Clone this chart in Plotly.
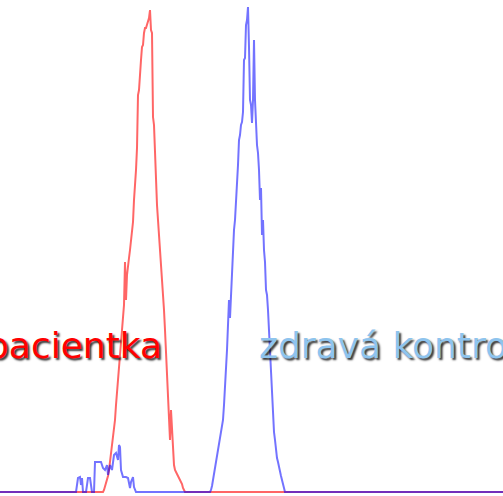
import plotly.graph_objects as go

# Red histogram (pacientka): channel, count
red_x = [0, 103, 104, 105, 106, 107, 108, 109, 110, 111, 112, 113, 114, 115, 116, 117, 118, 119, 120,
         121, 122, 123, 124, 125, 126, 127, 128, 129, 130, 131, 132, 133, 134, 135, 136, 137, 138,
         139, 140, 141, 142, 143, 144, 145, 146, 147, 148, 149, 150, 151, 152, 153, 154, 155, 156,
         157, 158, 159, 160, 161, 162, 163, 164, 165, 166, 167, 168, 169, 170, 171, 172, 173, 174,
         175, 176, 177, 178, 179, 180, 181, 182, 183, 184, 185, 503]
red_px = [492, 492, 490, 487, 484, 480, 476, 470, 462, 455, 447, 438, 428, 420, 405, 392, 378, 365, 352,
          340, 330, 320, 305, 262, 300, 275, 262, 258, 250, 240, 228, 222, 200, 188, 170, 148, 95,
          90, 68, 60, 47, 45, 33, 28, 28, 25, 22, 18, 10, 30, 33, 117, 125, 160, 180,
          205, 220, 235, 243, 260, 277, 295, 310, 330, 350, 375, 397, 410, 440, 410, 432, 455, 465,
          470, 473, 474, 476, 478, 480, 482, 484, 488, 490, 492, 492]
red_y = [492 - v for v in red_px]

# Blue histogram (zdravá kontrola)
blue_x = [0, 76, 78, 80, 81, 82, 83, 86, 88, 90, 92, 94, 95, 98, 101, 103, 105, 107, 108, 110, 112,
          114, 116, 118, 119, 120, 121, 123, 126, 128, 130, 131, 133, 134, 136,
          210, 211, 212, 213, 214, 215, 216, 217, 218, 219, 220, 221, 222, 223, 224, 225, 226, 227,
          228, 229, 230, 231, 232, 233, 234, 235, 236, 237, 238, 239, 240, 241, 242, 243, 244, 245,
          246, 247, 248, 249, 250, 251, 252, 253, 254, 255, 256, 257, 258, 259, 260, 261, 262, 263,
          264, 265, 266, 267, 268, 269, 270, 271, 272, 273, 274, 275, 276, 277, 278, 279, 280, 281,
          282, 283, 284, 285, 503]
blue_px = [492, 492, 478, 477, 485, 478, 492, 492, 478, 478, 492, 492, 462, 462, 462, 468, 470, 465, 475, 465, 470,
           455, 453, 460, 445, 447, 470, 477, 477, 478, 488, 482, 477, 487, 492,
           492, 490, 486, 480, 475, 470, 463, 456, 450, 445, 437, 430, 425, 420, 405, 390, 370, 350,
           325, 300, 318, 297, 262, 250, 230, 220, 205, 180, 165, 140, 135, 125, 122, 112, 60, 58,
           25, 20, 7, 47, 100, 105, 123, 100, 40, 100, 130, 145, 153, 170, 200, 188, 235, 220,
           250, 262, 290, 295, 310, 330, 350, 370, 385, 420, 432, 440, 450, 458, 462, 468, 472, 476,
           480, 485, 489, 492, 492]
blue_y = [492 - v for v in blue_px]

labels = ["pacientka", "zdravá kontrola"]
label_x = [-16, 257]

fig = go.Figure()
fig.add_trace(go.Scatter(x=red_x, y=red_y, mode="lines",
                         line=dict(color="rgba(255,0,0,0.6)", width=2), hoverinfo="skip"))
fig.add_trace(go.Scatter(x=blue_x, y=blue_y, mode="lines",
                         line=dict(color="rgba(0,0,255,0.55)", width=2), hoverinfo="skip"))

W = 503.0
fig.add_annotation(x=label_x[0] / W, y=147, xref="paper", yref="y", text=labels[0], showarrow=False,
                   xanchor="left", yanchor="middle",
                   font=dict(family="DejaVu Sans", size=36, color="#ff0000",
                             shadow="2px 2px 2px rgba(0,0,0,0.8)"))
fig.add_annotation(x=label_x[1] / W, y=147, xref="paper", yref="y", text=labels[1], showarrow=False,
                   xanchor="left", yanchor="middle",
                   font=dict(family="DejaVu Sans", size=36, color="#8ec4ee",
                             shadow="2px 2px 2px rgba(0,0,0,0.8)"))

fig.update_layout(width=503, height=496, margin=dict(l=0, r=0, t=0, b=0),
                  paper_bgcolor="white", plot_bgcolor="white", showlegend=False)
fig.update_xaxes(range=[0, 503], visible=False)
fig.update_yaxes(range=[-4, 492], visible=False)
fig.write_html("out.html", config={"displayModeBar": False},
               post_script="document.body.style.margin='0';document.body.style.overflow='hidden';")
